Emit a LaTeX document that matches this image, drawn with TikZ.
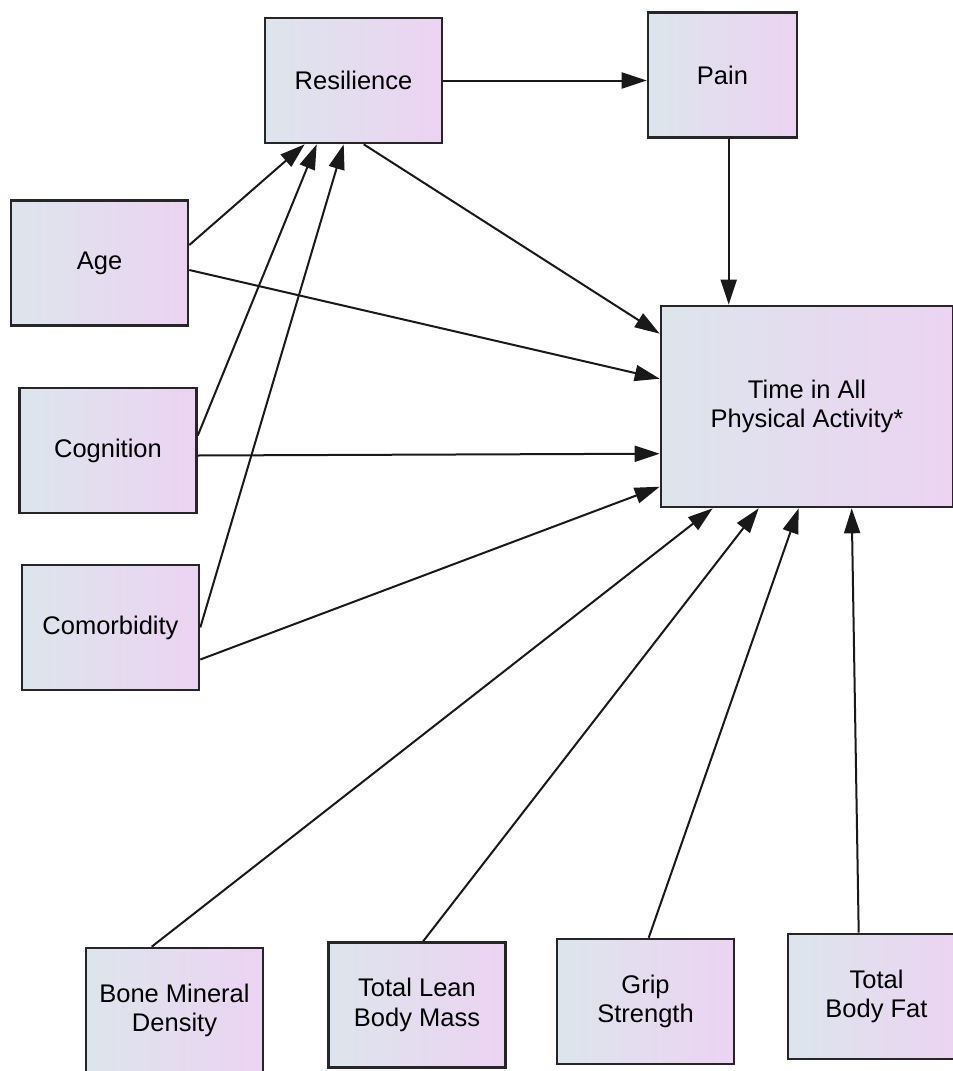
\documentclass[tikz,border=0pt]{standalone}
\usepackage{fontspec}
\setmainfont{Liberation Sans}
\usetikzlibrary{arrows.meta,calc}
\definecolor{cBoxL}{HTML}{DDE5EC}
\definecolor{cBoxR}{HTML}{ECD3F2}
\tikzset{
  var/.style ={draw=black!85,line width=2.6pt,left color=cBoxL,right color=cBoxR,
               minimum width=177pt,minimum height=125pt,align=center,
               inner sep=2pt,font=\fontsize{25.5}{29.5}\selectfont},
  outc/.style={var,minimum width=292pt,minimum height=201pt},
  path/.style={-{Triangle[length=25pt,width=16pt]},line width=2pt,draw=black!90},
}
\begin{document}
\begin{tikzpicture}[x=1pt,y=-1pt]
\useasboundingbox (0,0) rectangle (953,1071);

% predictors on the left, mediators on top
\node[var] (res)  at (353.5,80.5)  {Resilience};
\node[var,minimum width=149pt] (pain) at (722.5,75) {Pain};
\node[var] (age)  at (99.5,263)    {Age};
\node[var] (cog)  at (108,450.5)   {Cognition};
\node[var] (com)  at (110.5,627.5) {Comorbidity};
\node[outc] (time) at (807,406.5)  {Time in All\\Physical Activity*};

% body composition row
\node[var] (bmd)  at (174.5,1010.5) {Bone Mineral\\Density};
\node[var] (lean) at (417,1005)     {Total Lean\\Body Mass};
\node[var] (grip) at (645.5,1001.5) {Grip\\Strength};
\node[var] (fat)  at (876.5,996.5)  {Total\\Body Fat};

\draw[path] (res.east) -- (res.east -| pain.west);
\draw[path] ($(pain.south west)+(82,0)$) -- ($(time.north west)+(69,0)$);

\draw[path] ($(age.east)+(0,-18)$) -- ($(res.south west)+(41,0)$);
\draw[path] ($(cog.east)+(0,-15)$) -- ($(res.south west)+(53,0)$);
\draw[path] (com.east) -- ($(res.south west)+(80,0)$);

\draw[path] ($(res.south west)+(100,0)$) -- ($(time.north west)+(0,29)$);
\draw[path] ($(age.east)+(0,7)$) -- ($(time.north west)+(0,74)$);
\draw[path] ($(cog.east)+(0,5)$) -- ($(time.north west)+(0,149)$);
\draw[path] ($(com.east)+(0,32)$) -- ($(time.north west)+(0,182)$);

\draw[path] ($(bmd.north west)+(67,0)$)  -- ($(time.south west)+(53,0)$);
\draw[path] ($(lean.north west)+(96,0)$) -- ($(time.south west)+(99,0)$);
\draw[path] ($(grip.north west)+(93,0)$) -- ($(time.south west)+(139,0)$);
\draw[path] ($(fat.north west)+(72,0)$)  -- ($(time.south west)+(192,0)$);
\end{tikzpicture}
\end{document}
